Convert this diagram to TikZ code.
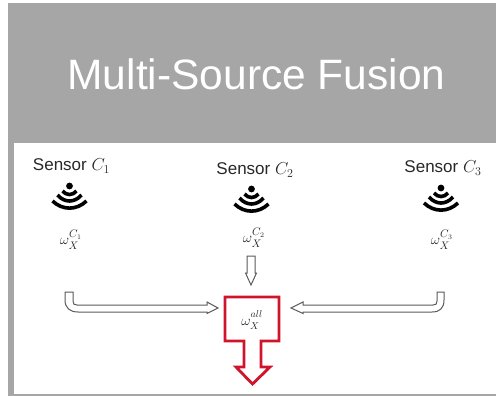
\documentclass[tikz,border=0pt]{standalone}
\usepackage{amsmath}
\usepackage{amssymb}
\usepackage{fontspec}
\setmainfont{Liberation Sans}

\definecolor{headergray}{RGB}{166,166,166}
\definecolor{fusionred}{RGB}{208,20,44}
\definecolor{arrowgray}{RGB}{90,90,90}
\definecolor{textgray}{RGB}{40,40,40}

\begin{document}
\begin{tikzpicture}[x=1pt,y=-1pt]
  \tikzset{sensor/.style = {inner sep=0pt,text=textgray,font=\fontsize{17}{19}\selectfont}}
  \tikzset{weight/.style = {inner sep=0pt,text=textgray,font=\fontsize{15}{17}\selectfont}}
  \tikzset{hollow/.style = {draw=arrowgray,fill=white,line width=1pt,line join=miter}}
  \tikzset{fused/.style = {draw=fusionred,fill=white,line width=2.8pt,line join=miter}}
  \tikzset{wave/.style = {line width=3.6pt}}
  \tikzset{waves/.pic = {
    \fill (0,0) circle (3.4);
    \draw[wave] (-7,5) .. controls (-3,9.7) and (3,9.7) .. (7,5);
    \draw[wave] (-12,9) .. controls (-5,17) and (5,17) .. (12,9);
    \draw[wave] (-17,15) .. controls (-7,24.5) and (7,24.5) .. (17,15);
  }}
  \useasboundingbox (0,0) rectangle (496,396);

  % header and panel
  \fill[headergray] (8,3) rectangle (496,396);
  \fill[white] (14,143) rectangle (496,394);
  \node[text=white,inner sep=0pt,font=\fontsize{42.5}{48}\selectfont] (title) at (256.5,74) {Multi-Source Fusion};

  \node[sensor] (s1) at (71.5,166) {Sensor $C_1$};
  \node[sensor] (s2) at (255,170) {Sensor $C_2$};
  \node[sensor] (s3) at (443,168) {Sensor $C_3$};

  \pic at (69.5,186) {waves};
  \pic at (251.5,189) {waves};
  \pic at (441,188) {waves};

  \node[weight] (w1) at (71,240) {$\omega_X^{C_1}$};
  \node[weight] (w2) at (254,238) {$\omega_X^{C_2}$};
  \node[weight] (w3) at (442,240) {$\omega_X^{C_3}$};

  % arrows
  \draw[hollow] (65,292) -- (73,292) -- (73,301) .. controls (73,304) and (74,305) .. (77,305)
    -- (207,305) -- (207,302) -- (218,308) -- (207,313.5) -- (207,312) -- (78,312)
    .. controls (70,312) and (65,308) .. (65,300) -- cycle;
  \draw[hollow] (444,292) -- (437,292) -- (437,301) .. controls (437,304) and (436,305) .. (433,305)
    -- (303,305) -- (303,302) -- (291,308) -- (303,313.5) -- (303,312) -- (432,312)
    .. controls (440,312) and (444,308) .. (444,300) -- cycle;
  \draw[hollow] (247,256) -- (255,256) -- (255,273) -- (256.5,273) -- (251,285) -- (245.5,273) -- (247,273) -- cycle;

  \draw[fused] (225,297) -- (279,297) -- (279,341) -- (261,341) -- (261,367) -- (270,367)
    -- (252.5,384) -- (236,367) -- (244,367) -- (244,341) -- (225,341) -- cycle;
  \node[weight,font=\fontsize{14}{16}\selectfont] (all) at (252,320) {$\omega_X^{\mathstrut all}$};
\end{tikzpicture}
\end{document}
